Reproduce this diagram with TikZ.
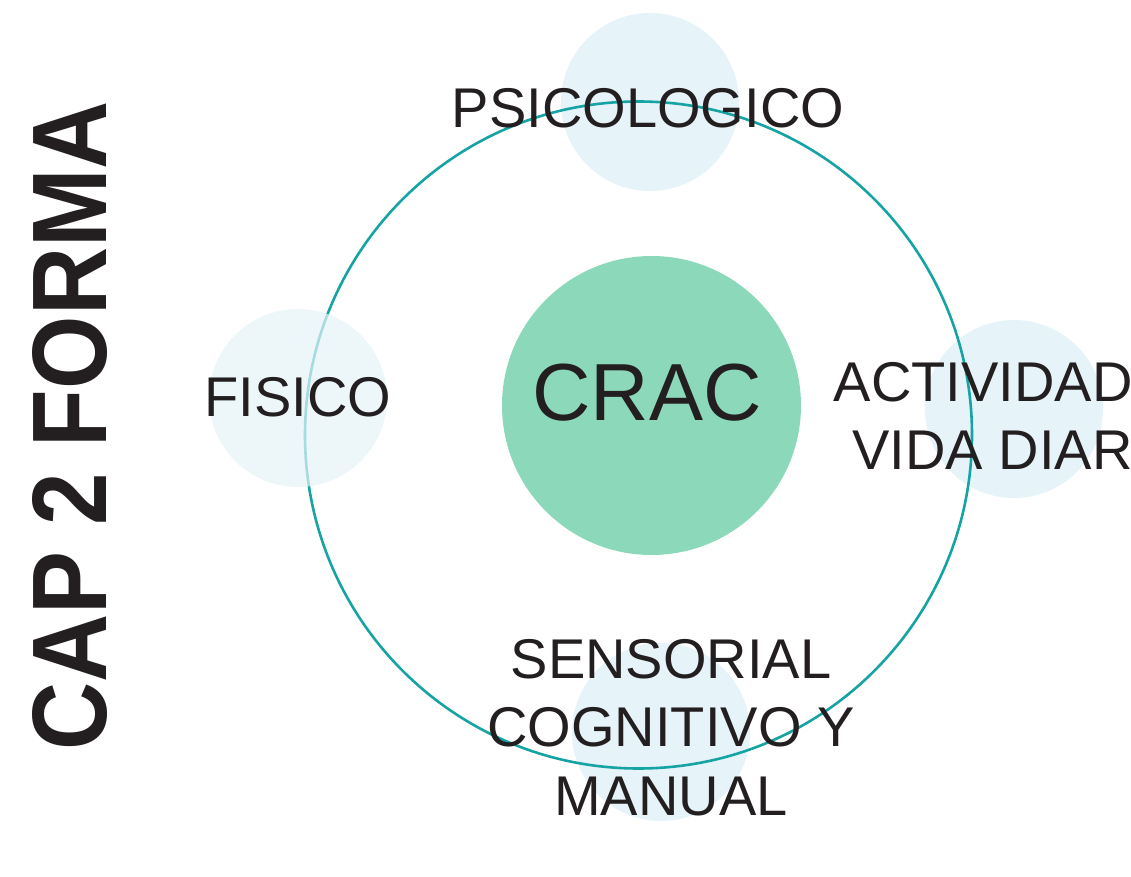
\documentclass[tikz,border=0pt]{standalone}
\usepackage{fontspec}
\setmainfont{Liberation Sans}
\definecolor{cracgreen}{HTML}{8CD8BA}
\definecolor{palecyan}{HTML}{E6F3F8}
\definecolor{ringteal}{HTML}{16A3A3}
\definecolor{inkblack}{HTML}{231F20}
\tikzset{
  disc/.style={circle, inner sep=0pt, minimum size=89pt, fill=palecyan},
  area/.style={text=inkblack, font=\fontsize{28}{34.25}\selectfont, align=center, inner sep=0pt},
}
\begin{document}
\begin{tikzpicture}[x=0.5pt, y=-0.5pt]
    \useasboundingbox (0,0) rectangle (1131,877);

    % pale discs behind the ring
    \node[disc] (dpsico) at (650,102) {};
    \node[disc] (dactiv) at (1014,409) {};
    \node[disc] (dsenso) at (661,732) {};

    \node[circle, draw=ringteal, line width=1.3pt, minimum size=333.5pt, inner sep=0pt]
    (ring) at (638.5,435) {};

    \node[disc, fill opacity=0.7] (dfisico) at (298,398) {};

    \node[circle, fill=cracgreen, minimum size=149.5pt, inner sep=0pt]
    (crac) at (651.5,405.5) {};

    \node[area, font=\fontsize{40.5}{48}\selectfont, anchor=base] (lcrac) at (647,421) {CRAC};
    \node[area, anchor=base] (lpsico) at (648,128) {PSICOLOGICO};
    \node[area, anchor=base] (lfisico) at (298,417) {FISICO};
    \node[area, align=right, anchor=east] (lactiv) at (1133,416) {ACTIVIDAD\\VIDA DIAR};
    \node[area] (lsenso) at (671,727.5) {SENSORIAL\\COGNITIVO Y\\MANUAL};

    \node[rotate=90, inner sep=0pt, text=inkblack, font=\bfseries\fontsize{53}{60}\selectfont]
    (title) at (70,426) {\scalebox{0.89}[1]{CAP 2 FORMA}};
\end{tikzpicture}
\end{document}
